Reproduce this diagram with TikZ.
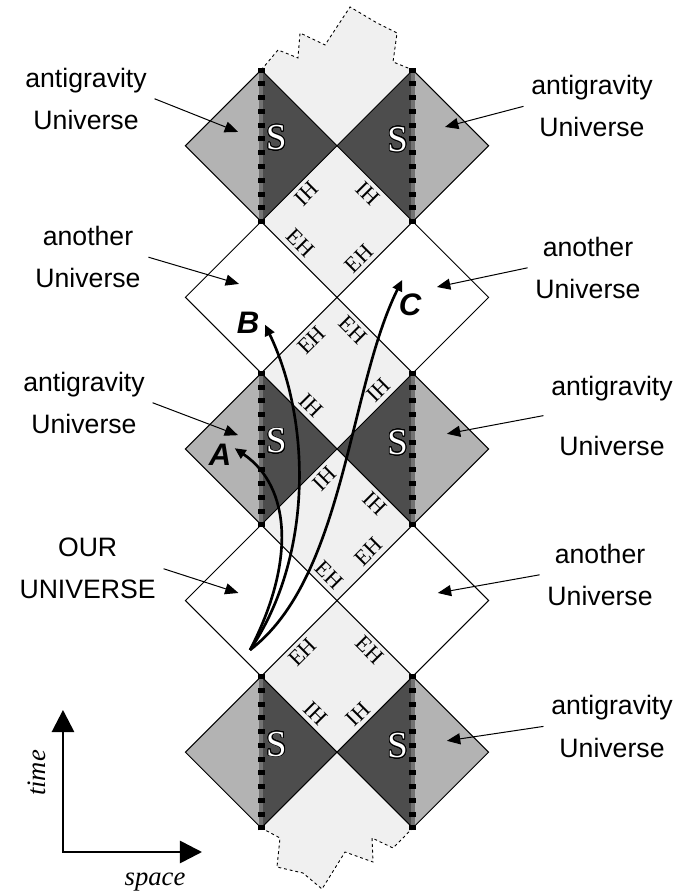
\documentclass[tikz,border=0pt]{standalone}
\usepackage{fontspec}
\setmainfont{Liberation Serif}
\setsansfont{Liberation Sans}
\usepackage{contour}
\usetikzlibrary{arrows.meta}
\definecolor{lightfill}{HTML}{F0F0F0}
\definecolor{midfill}{HTML}{B3B3B3}
\definecolor{darkfill}{HTML}{4D4D4D}
\contourlength{0.4pt}
\newcommand{\agpair}[1]{
  \begin{scope}[shift={(0,#1)}]
    \fill [midfill] (-2,1) -- (-1,2) -- (-1,0) -- cycle;
    \fill [darkfill] (-1,2) -- (0,1) -- (-1,0) -- cycle;
    \fill [darkfill] (0,1) -- (1,2) -- (1,0) -- cycle;
    \fill [midfill] (1,2) -- (2,1) -- (1,0) -- cycle;
    \draw [rim] (-2,1) -- (-1,2) -- (0,1) -- (-1,0) -- cycle;
    \draw [rim] (0,1) -- (1,2) -- (2,1) -- (1,0) -- cycle;
    \foreach \x in {-1,1}{
      \draw [sband] (\x,0) -- (\x,2);
      \draw [sdots] (\x,-0.033) -- (\x,2.033);
    }
    \node [sing] (sl#1) at (-0.8,1.1) {\contour[24]{black}{S}};
    \node [sing] (sr#1) at (0.8,1.08) {\contour[24]{black}{S}};
  \end{scope}
}
\newcommand{\hzone}[7]{
  \fill [lightfill] (-1,#1) -- (0,#1+1) -- (1,#1) -- (0,#1-1) -- cycle;
  \path (-1,#1) -- (0,#1+1) node [hlab,pos=#4,below,sloped] (ul#1) {#2};
  \path (0,#1+1) -- (1,#1) node [hlab,pos=#5,below,sloped] (ur#1) {#2};
  \path (-1,#1) -- (0,#1-1) node [hlab,pos=#6,above,sloped] (ll#1) {#3};
  \path (0,#1-1) -- (1,#1) node [hlab,pos=#7,above,sloped] (lr#1) {#3};
}
\begin{document}
\begin{tikzpicture}[x=1.2cm,y=1.2cm,
    rim/.style={line width=0.45pt},
    sband/.style={line width=1.6pt,black!55},
    sdots/.style={line width=3.2pt,dash pattern=on 2.25pt off 3.95pt},
    sing/.style={text=white,font=\fontsize{16.5}{16.5}\selectfont},
    hlab/.style={font=\fontsize{10}{10}\selectfont,inner sep=2pt},
    side/.style={font=\sffamily\fontsize{12}{19}\selectfont,align=center},
    ptr/.style={-{Triangle[length=6pt,width=5pt]},line width=0.45pt},
    traj/.style={-{Triangle[length=5pt,width=4.5pt]},line width=1.2pt},
    tlab/.style={font=\sffamily\bfseries\itshape\fontsize{14}{14}\selectfont},
    axis/.style={{Triangle[length=10pt,width=10pt]}-{Triangle[length=10pt,width=10pt]},line width=1.2pt},
    jag/.style={dash pattern=on 1.3pt off 1.3pt,line width=0.4pt}]
  \useasboundingbox (-4.446,-0.871) rectangle (4.525,10.923);
  \fill [lightfill] (-1,10) -- (0,9) -- (1,10) -- (0.739,10.106) -- (0.792,10.488) -- (0.528,10.620) -- (0.172,10.831) -- (-0.158,10.330) -- (-0.488,10.488) -- (-0.515,10.158) -- (-0.778,10.264) -- cycle;
  \draw [jag] (-1,10) -- (-0.778,10.264) -- (-0.515,10.158) -- (-0.488,10.488) -- (-0.158,10.330) -- (0.172,10.831) -- (0.528,10.620) -- (0.792,10.488) -- (0.739,10.106) -- (1,10);
  \fill [lightfill] (-1,0) -- (0,1) -- (1,0) -- (0.739,-0.264) -- (0.462,-0.132) -- (0.475,-0.449) -- (0.106,-0.317) -- (-0.198,-0.805) -- (-0.449,-0.594) -- (-0.792,-0.515) -- (-0.752,-0.132) -- cycle;
  \draw [jag] (-1,0) -- (-0.752,-0.132) -- (-0.792,-0.515) -- (-0.449,-0.594) -- (-0.198,-0.805) -- (0.106,-0.317) -- (0.475,-0.449) -- (0.462,-0.132) -- (0.739,-0.264) -- (1,0);
  \hzone{2}{EH}{IH}{0.43}{0.54}{0.60}{0.39}
  \hzone{4}{IH}{EH}{0.72}{0.61}{0.78}{0.53}
  \hzone{6}{EH}{IH}{0.55}{0.32}{0.54}{0.66}
  \hzone{8}{IH}{EH}{0.48}{0.515}{0.40}{0.40}
  \agpair{0}
  \agpair{4}
  \agpair{8}
  \foreach \y in {2,6}{
    \draw [rim] (-2,\y+1) -- (-1,\y+2) -- (0,\y+1) -- (-1,\y) -- cycle;
    \draw [rim] (0,\y+1) -- (1,\y+2) -- (2,\y+1) -- (1,\y) -- cycle;
  }
  \node [side] (l1) at (-3.311,9.62) {antigravity\\Universe};
  \node [side] (l2) at (-3.285,7.53) {another\\Universe};
  \node [side] (l3) at (-3.338,5.61) {antigravity\\Universe};
  \node [side] (l4) at (-3.29,3.42) {OUR\\UNIVERSE};
  \node [side] (r1) at (3.364,9.52) {antigravity\\Universe};
  \node [side] (r2) at (3.311,7.39) {another\\Universe};
  \node [side] (r3) at (3.628,5.44) {antigravity\\[8pt]Universe};
  \node [side] (r4) at (3.47,3.34) {another\\Universe};
  \node [side] (r5) at (3.628,1.34) {antigravity\\Universe};
  \coordinate (p1) at (-1.306,9.182);
  \coordinate (p2) at (-1.293,7.177);
  \coordinate (p3) at (-1.306,5.182);
  \coordinate (p4) at (-1.3,3.1);
  \coordinate (q1) at (1.425,9.248);
  \coordinate (q2) at (1.319,7.137);
  \coordinate (q3) at (1.45,5.2);
  \coordinate (q4) at (1.33,3.1);
  \coordinate (q5) at (1.45,1.15);
  \draw [ptr] (l1.east) -- (p1);
  \draw [ptr] (l2.east) -- (p2);
  \draw [ptr] (l3.east) -- (p3);
  \draw [ptr] (l4.east) -- (p4);
  \draw [ptr] (r1.west) -- (q1);
  \draw [ptr] (r2.west) -- (q2);
  \draw [ptr] (r3.west) -- (q3);
  \draw [ptr] (r4.west) -- (q4);
  \draw [ptr] (r5.west) -- (q5);
  \coordinate (o) at (-1.148,2.348);
  \coordinate (ta) at (-1.35,5.01);
  \coordinate (tb) at (-0.95,6.64);
  \coordinate (tc) at (0.86,7.23);
  \draw [traj] (o) .. controls (-0.55,3.5) and (-0.6,4.5) .. (ta);
  \draw [traj] (o) .. controls (-0.3,3.6) and (-0.35,5.4) .. (tb);
  \draw [traj] (o) .. controls (0.1,3.3) and (0.15,5.8) .. (tc);
  \node [tlab] (na) at (-1.544,4.921) {A};
  \node [tlab] (nb) at (-1.174,6.662) {B};
  \node [tlab] (nc) at (0.963,6.900) {C};
  \coordinate (ax) at (-3.615,-0.317);
  \coordinate (ay) at (-3.615,1.557);
  \coordinate (az) at (-1.781,-0.317);
  \draw [axis] (ay) -- (ax) -- (az);
  \node [rotate=90,font=\itshape\fontsize{12}{12}\selectfont] (nt) at (-3.958,0.726) {time};
  \node [font=\itshape\fontsize{12}{12}\selectfont] (ns) at (-2.401,-0.712) {space};
\end{tikzpicture}
\end{document}
